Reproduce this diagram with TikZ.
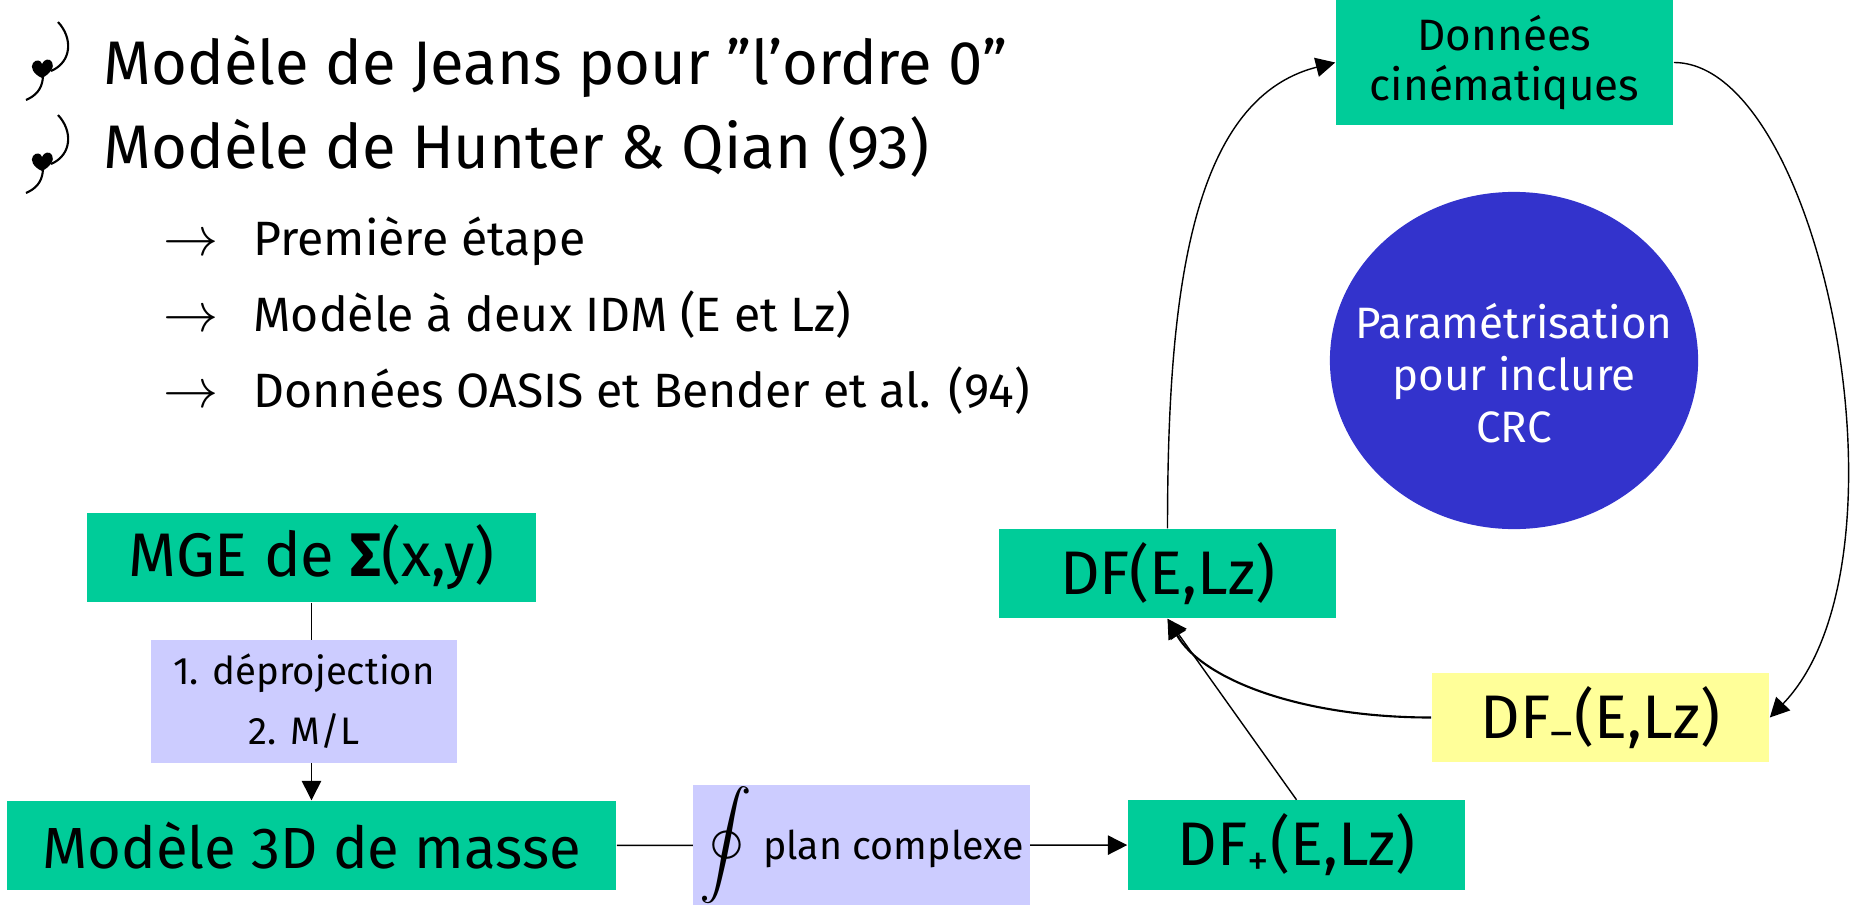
\documentclass[tikz,border=0pt]{standalone}
\usepackage{fontspec}
\setmainfont{Fira Sans}
\usetikzlibrary{arrows.meta,shapes.geometric}

\definecolor{vert}{RGB}{0,204,153}
\definecolor{lavande}{RGB}{204,204,255}
\definecolor{jaune}{RGB}{255,255,153}
\definecolor{bleu}{RGB}{51,51,204}

\begin{document}
\begin{tikzpicture}
  [x=0.01cm,y=0.01cm,>={Triangle[length=5.5pt,width=5.5pt]},
   titre/.style={anchor=base west,inner sep=0pt,font=\fontsize{17.5}{22}\selectfont},
   item/.style={anchor=base west,inner sep=0pt,font=\fontsize{13.7}{16}\selectfont},
   boite/.style={rectangle,fill=vert,inner sep=0pt,minimum width=3.37cm,
     minimum height=0.89cm,font=\fontsize{17.5}{22}\selectfont},
   etiquette/.style={rectangle,fill=lavande,inner sep=0pt,align=center,
     font=\fontsize{10.9}{17}\selectfont}]
  \useasboundingbox (0,0) rectangle (1852,-906);
  % puces
  \foreach \dy in {0,-93} {
    \begin{scope}[shift={(0,\dy)}]
      \draw[line width=0.6pt] (58,-22) .. controls (73,-38) and (72,-62) .. (51,-71);
      \draw[line width=0.6pt] (43,-77) .. controls (42,-90) and (35,-96) .. (26,-100);
      \fill (42,-78) .. controls (33,-74) and (30,-67) .. (33,-63)
        .. controls (36,-59) and (41,-60) .. (42,-64)
        .. controls (44,-59) and (50,-58) .. (52,-62)
        .. controls (55,-67) and (50,-74) .. (42,-78);
    \end{scope}
  }
  \node[titre] (jeans) at (103,-84) {Modèle de Jeans pour "l'ordre 0"};
  \node[titre] (hunter) at (103,-168) {Modèle de Hunter \& Qian (93)};
  \node[item] (etape) at (163,-255) {\makebox[25.5pt][l]{\resizebox{0.55cm}{!}{$\rightarrow$}}Première étape};
  \node[item] (idm) at (163,-331) {\makebox[25.5pt][l]{\resizebox{0.55cm}{!}{$\rightarrow$}}Modèle à deux IDM (E et Lz)};
  \node[item] (oasis) at (163,-407) {\makebox[25.5pt][l]{\resizebox{0.55cm}{!}{$\rightarrow$}}Données OASIS et Bender et al. (94)};

  \node[boite,minimum width=4.49cm] (mge) at (311.5,-557.5) {MGE de \textbf{Σ}(x,y)};
  \node[boite,minimum width=6.09cm,font=\fontsize{16.5}{20}\selectfont] (masse) at (311.5,-845.5) {Modèle 3D de masse};
  \node[boite] (dfplus) at (1296.5,-845) {DF\textsubscript{+}(E,Lz)};
  \node[boite] (df) at (1167.5,-573.5) {DF(E,Lz)};
  \node[boite,fill=jaune] (dfmoins) at (1600.5,-717.5) {DF\textsubscript{–}(E,Lz)};
  \node[boite,minimum height=1.25cm,align=center,font=\fontsize{12.5}{14.2}\selectfont]
    (donnees) at (1504.5,-62.5) {Données\\cinématiques};
  \node[ellipse,fill=bleu,inner sep=0pt,minimum width=3.68cm,minimum height=3.37cm,
    label={[align=center,text=white,yshift=-0.13cm,font=\fontsize{12.5}{14.8}\selectfont]center:Paramétrisation\\pour inclure\\CRC}]
    (crc) at (1514,-360.5) {};

  \draw[->] (mge) -- node[etiquette,xshift=-0.075cm,minimum width=3.05cm,minimum height=1.23cm]
    {1. déprojection\\2. M/L} (masse);
  \draw[->] (masse) -- node[etiquette,pos=0.48,minimum width=3.37cm,minimum height=1.2cm,
    font=\fontsize{11.2}{14}\selectfont]
    {\scalebox{1.5}{$\displaystyle\oint$}\ plan complexe} (dfplus);
  \draw[->] (dfplus.north) -- (df.south);
  \draw[->,line width=0.6pt] (dfmoins.west) .. controls +(-130,0) and +(35,-61) .. (df.south);
  \draw[->] (df.north) .. controls +(0,229) and +(-146,-37) .. (donnees.west);
  \draw[->] (donnees.east) .. controls +(147,0) and +(151,157) .. (dfmoins.east);
\end{tikzpicture}
\end{document}
